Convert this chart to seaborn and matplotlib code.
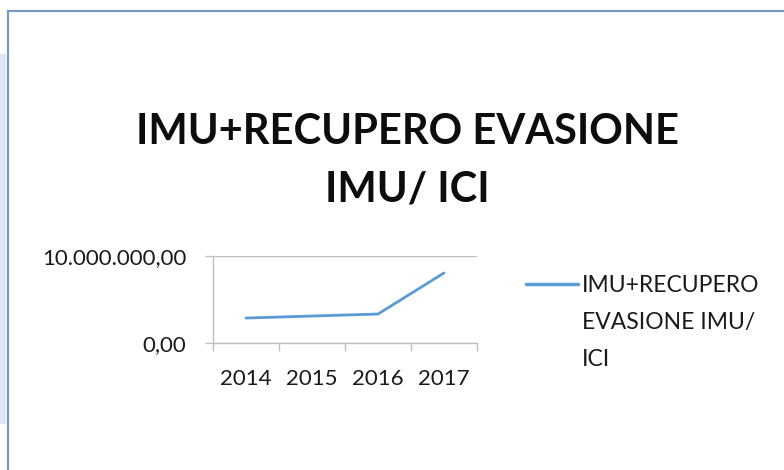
#!/usr/bin/env python3
"""
plot.py - IMU + recupero evasione IMU/ICI, line chart by year.
"""
import matplotlib.pyplot as plt
import matplotlib.ticker as mticker
import matplotlib.lines as mlines
import matplotlib.patches as mpatches
from matplotlib.legend_handler import HandlerLine2D
import numpy as np
import pandas as pd
import seaborn as sns

# -- Data -- #

YEARS = ['2014', '2015', '2016', '2017']
VALUES = [2_870_000, 3_100_000, 3_330_000, 8_050_000]
SERIES = 'IMU+RECUPERO\nEVASIONE IMU/\nICI'
TITLE = 'IMU+RECUPERO EVASIONE\nIMU/ ICI'

# -- Style -- #

LINE_COLOR = '#5b9bd5'
AXIS_COLOR = '#bfbfbf'
TEXT_COLOR = '#1a1a1a'
FONT = ['Lato', 'DejaVu Sans']
LEGEND_SIZE = 16.5
LEGEND_SPACING = 1.95


class FirstLineHandler(HandlerLine2D):
    """Put the legend line next to the first line of a multi-line label."""

    def __init__(self, shift, **kw):
        super().__init__(**kw)
        self.shift = shift

    def create_artists(self, legend, orig_handle, xdescent, ydescent,
                       width, height, fontsize, trans):
        artists = super().create_artists(legend, orig_handle, xdescent,
                                         ydescent, width, height,
                                         fontsize, trans)
        for a in artists:
            a.set_ydata(np.asarray(a.get_ydata()) + self.shift)
        return artists


def it_number(value, pos=None):
    # 10000000 -> 10.000.000,00
    s = f'{value:,.2f}'
    return s.replace(',', 'X').replace('.', ',').replace('X', '.')


def main():
    sns.set_theme(style='white')
    plt.rcParams['font.family'] = FONT

    df = pd.DataFrame({'year': YEARS, 'value': VALUES})

    fig = plt.figure(figsize=(7.84, 4.70), dpi=100)
    ax = fig.add_axes([0.2717, 0.2702, 0.3367, 0.1851])

    sns.lineplot(data=df, x='year', y='value', ax=ax,
                 color=LINE_COLOR, linewidth=2.0, label=SERIES)

    # Axes limits and ticks, Excel-like look.
    ax.set_xlim(-0.5, len(YEARS) - 0.5)
    ax.set_ylim(0, 10_000_000)
    ax.set_yticks([0, 10_000_000])
    ax.yaxis.set_major_formatter(mticker.FuncFormatter(it_number))

    ax.set_xticks([i - 0.5 for i in range(len(YEARS) + 1)])
    ax.set_xticklabels([])
    ax.set_xticks(range(len(YEARS)), minor=True)
    ax.set_xticklabels(YEARS, minor=True)
    ax.tick_params(axis='x', which='major', length=6, width=1,
                   color=AXIS_COLOR, direction='out')
    ax.tick_params(axis='x', which='minor', length=0, pad=19,
                   labelsize=16, labelcolor=TEXT_COLOR)
    ax.tick_params(axis='y', length=6, width=1, color=AXIS_COLOR,
                   direction='out', labelsize=16, labelcolor=TEXT_COLOR,
                   pad=13)
    ax.tick_params(bottom=True, left=True, which='both')

    ax.grid(axis='y', color=AXIS_COLOR, linewidth=1)
    for side in ['top', 'right']:
        ax.spines[side].set_visible(False)
    for side in ['left', 'bottom']:
        ax.spines[side].set_color(AXIS_COLOR)
        ax.spines[side].set_linewidth(1)
    ax.set_xlabel('')
    ax.set_ylabel('')
    ax.set_facecolor('none')

    # Legend on the right, line level with the first text line.
    ax.get_legend().remove()
    handle = mlines.Line2D([], [], color=LINE_COLOR, linewidth=2.5)
    shift = LEGEND_SIZE * LEGEND_SPACING * 0.87
    leg = fig.legend(
        handles=[handle], labels=[SERIES],
        handler_map={handle: FirstLineHandler(shift)},
        loc='upper left', bbox_to_anchor=(0.644, 0.459),
        frameon=False, fontsize=LEGEND_SIZE, handlelength=2.3,
        handletextpad=0.15, labelcolor=TEXT_COLOR,
    )
    for t in leg.get_texts():
        t.set_linespacing(LEGEND_SPACING)

    fig.text(0.52, 0.658, TITLE, ha='center', va='center',
             fontsize=30, fontweight='bold', color='#0d0d0d',
             linespacing=1.62)

    # Frame of the chart object.
    fig.add_artist(mpatches.Rectangle(
        (0, 1 - 424 / 470), 6 / 784, (424 - 54) / 470,
        transform=fig.transFigure, color='#dce6f1', lw=0))
    fig.add_artist(mlines.Line2D(
        [7.5 / 784, 7.5 / 784], [0, 1 - 11 / 470],
        transform=fig.transFigure, color='#6f97c9', lw=1.5))
    fig.add_artist(mlines.Line2D(
        [7.5 / 784, 1], [1 - 11 / 470, 1 - 11 / 470],
        transform=fig.transFigure, color='#6f97c9', lw=1.5))

    fig.savefig('out.png', dpi=100)


if __name__ == '__main__':
    main()
